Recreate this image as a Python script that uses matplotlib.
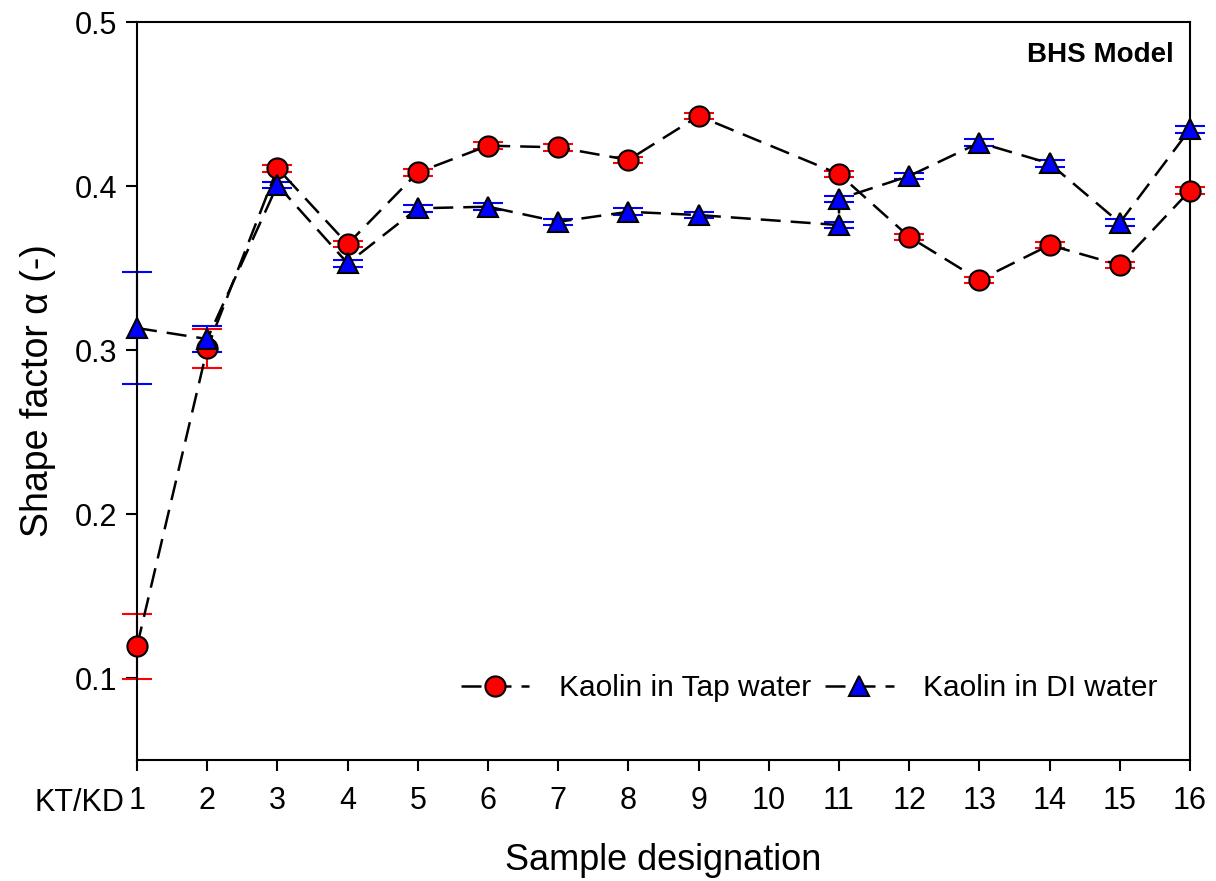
import matplotlib.pyplot as plt
import numpy as np

plt.rcParams['font.family'] = ['Liberation Sans', 'DejaVu Sans']

# sample positions (DI series has two points at 11)
x_tap = [1, 2, 3, 4, 5, 6, 7, 8, 9, 11, 12, 13, 14, 15, 16]
y_tap = [0.1195, 0.301, 0.4108, 0.3646, 0.4083, 0.4246, 0.4236, 0.4159, 0.4427,
         0.4073, 0.369, 0.3427, 0.364, 0.3518, 0.3972]
err_tap = [0.0198, 0.012, 0.002, 0.002, 0.002, 0.002, 0.002, 0.002, 0.002,
           0.002, 0.002, 0.002, 0.002, 0.002, 0.002]

x_di = [1, 2, 3, 4, 5, 6, 7, 8, 9, 11, 11, 12, 13, 14, 15, 16]
y_di = [0.3134, 0.3067, 0.4006, 0.3529, 0.3864, 0.3874, 0.3782, 0.3843, 0.3823,
        0.3762, 0.3921, 0.4061, 0.4264, 0.4138, 0.3776, 0.4346]
err_di = [0.034, 0.008, 0.002, 0.002, 0.002, 0.002, 0.002, 0.002, 0.002,
          0.002, 0.002, 0.002, 0.002, 0.002, 0.002, 0.002]

xticks = list(range(1, 17))
yticks = [0.1, 0.2, 0.3, 0.4, 0.5]

fig = plt.figure(figsize=(12.16, 8.81), dpi=100)
ax = fig.add_axes([0.1127, 0.1373, 0.8659, 0.8377])

dash = (0, (8, 4))
ax.errorbar(x_tap, y_tap, yerr=err_tap, fmt='none', ecolor='red', elinewidth=1.5,
            capsize=11, capthick=1.5, zorder=2, clip_on=False)
ax.errorbar(x_di, y_di, yerr=err_di, fmt='none', ecolor='blue', elinewidth=1.5,
            capsize=11, capthick=1.5, zorder=2, clip_on=False)
ax.plot(x_tap, y_tap, color='black', linestyle=dash, linewidth=1.8, marker='o',
        markersize=14.5, markerfacecolor='red', markeredgecolor='black',
        markeredgewidth=1.5, label='Kaolin in Tap water', zorder=3, clip_on=False)
ax.plot(x_di, y_di, color='black', linestyle=dash, linewidth=1.8, marker='^',
        markersize=15, markerfacecolor='blue', markeredgecolor='black',
        markeredgewidth=1.5, label='Kaolin in DI water', zorder=3, clip_on=False)

ax.set_xlim(1, 16)
ax.set_ylim(0.05, 0.5)
ax.set_xticks(xticks)
ax.set_xticklabels([str(v) for v in xticks])
ax.set_yticks(yticks)
ax.set_yticklabels([str(v) for v in yticks])
ax.tick_params(direction='out', length=8, width=1.5, labelsize=22)
ax.tick_params(axis='x', pad=11)
ax.tick_params(axis='y', pad=6)
for s in ax.spines.values():
    s.set_linewidth(1.5)

ax.text(-0.012, -0.058, 'KT/KD', transform=ax.transAxes, ha='right', va='center',
        fontsize=22)

ax.set_xlabel('Sample designation', fontsize=26, labelpad=19)
ax.set_ylabel('Shape factor \u03b1 (-)', fontsize=27, labelpad=14)

ax.text(0.985, 0.955, 'BHS Model', transform=ax.transAxes, ha='right', va='center',
        fontsize=20, fontweight='bold')

ax.legend(loc='lower right', bbox_to_anchor=(0.995, 0.042), ncol=2, frameon=False,
          fontsize=21.5, handlelength=2.3, columnspacing=0.45, handletextpad=1.0)

fig.savefig('out.png', dpi=100)
